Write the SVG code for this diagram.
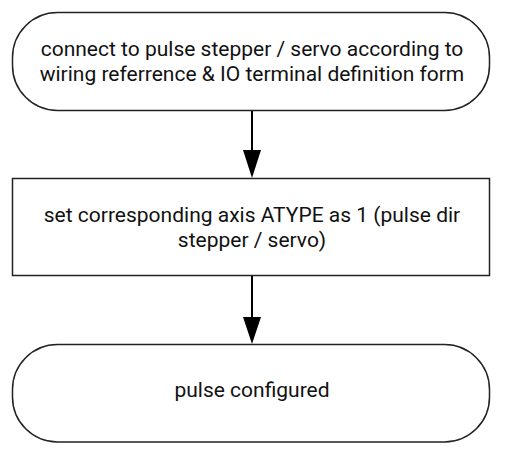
<svg xmlns="http://www.w3.org/2000/svg" width="507" height="456" viewBox="0 0 507 456">
<defs>
<style>
.node{fill:#fff;stroke:#222;stroke-width:1.5}
.t{font-family:Roboto,"Liberation Sans",sans-serif;font-size:21px;fill:#111;text-anchor:middle}
.edge{stroke:#000;stroke-width:2;fill:none}
.head{fill:#000}
</style>
</defs>
<rect width="507" height="456" fill="#fff"/>
<g id="n1">
<rect class="node" x="12.5" y="12.5" width="477" height="98" rx="45" ry="45"/>
<text class="t" x="252" y="56">connect to pulse stepper / servo according to</text>
<text class="t" x="252" y="81">wiring referrence &amp; IO terminal definition form</text>
</g>
<g id="n2">
<rect class="node" x="12.5" y="178.5" width="477" height="97"/>
<text class="t" x="252" y="222">set corresponding axis ATYPE as 1 (pulse dir</text>
<text class="t" x="252" y="247">stepper / servo)</text>
</g>
<g id="n3">
<rect class="node" x="12.5" y="344.5" width="477" height="97.5" rx="45" ry="45"/>
<text class="t" x="252" y="397">pulse configured</text>
</g>
<g id="edges">
<path d="M252,111 L252,150" class="edge"/>
<path class="head" d="M243,150 L261,150 L252,178 Z"/>
<path d="M252,276 L252,317" class="edge"/>
<path class="head" d="M243,317 L261,317 L252,344 Z"/>
</g>
</svg>
